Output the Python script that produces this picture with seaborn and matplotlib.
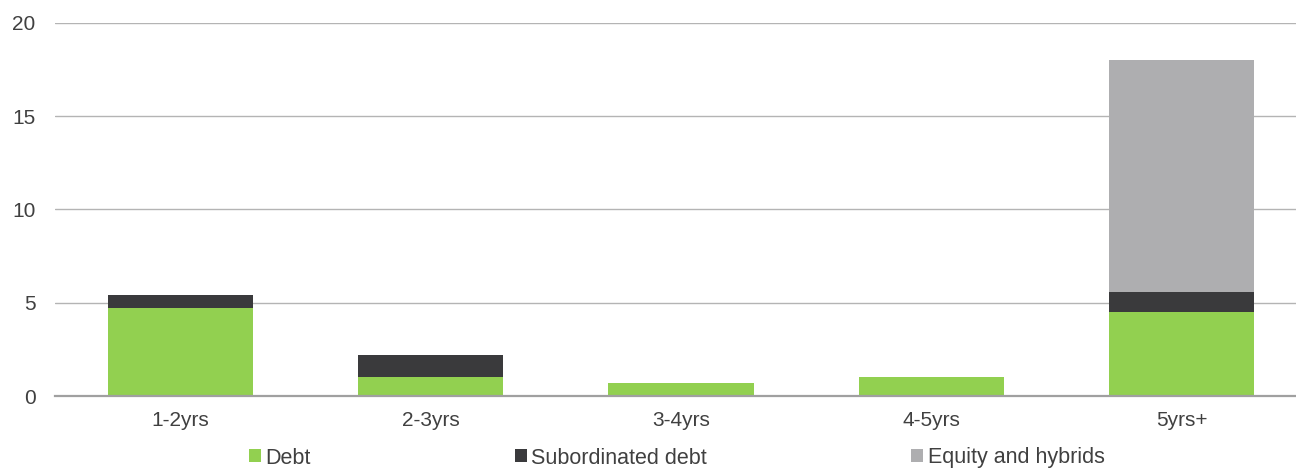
import matplotlib
matplotlib.use("Agg")
import matplotlib.pyplot as plt
import numpy as np
import pandas as pd
import seaborn as sns
from matplotlib.patches import Patch

# valores
categories = ["1-2yrs", "2-3yrs", "3-4yrs", "4-5yrs", "5yrs+"]
debt = [4.7, 1.0, 0.7, 1.0, 4.5]
subordinated = [0.7, 1.2, 0.0, 0.0, 1.1]
equity = [0.0, 0.0, 0.0, 0.0, 12.4]

series_names = ["Debt", "Subordinated debt", "Equity and hybrids"]
colors = ["#92D050", "#3A3A3C", "#AEAEB0"]

sns.set_theme(style="white")
plt.rcParams["font.family"] = ["Liberation Sans", "DejaVu Sans"]

df = pd.DataFrame({"cat": categories, "debt": debt, "sub": subordinated, "eq": equity})
df["lvl1"] = df["debt"]
df["lvl2"] = df["debt"] + df["sub"]
df["lvl3"] = df["lvl2"] + df["eq"]

fig = plt.figure(figsize=(12.96, 4.68), dpi=100)
ax = fig.add_axes([55 / 1296, 1 - 396 / 468, 1252 / 1296, 373 / 468])

# barras empilhadas: totais acumulados desenhados do maior para o menor
for col, color in zip(["lvl3", "lvl2", "lvl1"], colors[::-1]):
    sns.barplot(data=df, x="cat", y=col, color=color, width=0.58,
                saturation=1, linewidth=0, edgecolor="none", ax=ax, zorder=3)

ax.set_ylim(0, 20)
ax.set_yticks([0, 5, 10, 15, 20])
ax.set_xlabel("")
ax.set_ylabel("")
ax.grid(axis="y", color="#B4B4B4", linewidth=1.0, zorder=0)
ax.set_axisbelow(True)
for side in ["left", "right", "top"]:
    ax.spines[side].set_visible(False)
ax.spines["bottom"].set_color("#A0A0A0")
ax.spines["bottom"].set_linewidth(1.6)
ax.spines["bottom"].set_zorder(4)
ax.tick_params(axis="both", length=0, labelsize=15, colors="#404040")
ax.tick_params(axis="x", pad=11)
ax.tick_params(axis="y", pad=14)

handles = [Patch(facecolor=c, edgecolor="none") for c in colors]
fig.legend(handles, series_names, loc="center left", bbox_to_anchor=(249 / 1296, 1 - 458 / 468),
           ncol=3, frameon=False, fontsize=15.5, handlelength=0.55, handleheight=0.55,
           handletextpad=0.2, columnspacing=9.5, labelcolor="#404040", borderaxespad=0,
           borderpad=0)

fig.savefig("out.png", dpi=100)
